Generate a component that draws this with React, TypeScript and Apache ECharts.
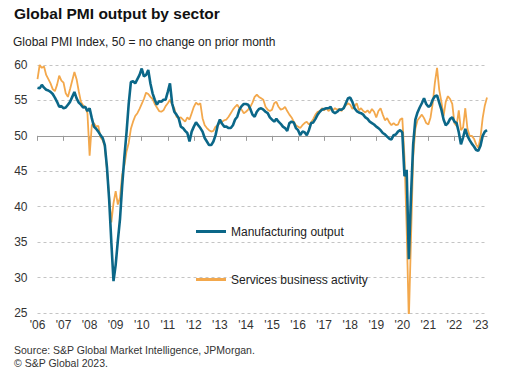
import React, { useEffect, useRef } from "react";
import * as echarts from "echarts";

const yearLabels = ["'06","'07","'08","'09","'10","'11","'12","'13","'14","'15","'16","'17","'18","'19","'20","'21","'22","'23"];

// monthly, Jan 2006 .. Apr 2023
const manufacturing = [
  56.8, 56.7, 57.2, 56.8, 56.5, 56.4, 56.2, 55.9, 55.4, 54.8, 54.1, 54.2,
  53.9, 54.0, 54.4, 54.8, 55.5, 56.2, 55.3, 54.7, 54.4, 54.0, 54.1, 53.5,
  53.9, 52.5, 51.3, 51.0, 50.6, 50.1, 49.7, 48.7, 45.5, 41.0, 35.0, 29.5,
  31.8, 35.2, 38.3, 43.0, 47.0, 50.5, 54.5, 57.6, 57.7, 57.4, 58.0, 58.6,
  59.5, 58.4, 58.6, 59.3, 57.4, 56.0, 55.1, 54.4, 54.9, 54.8, 55.1, 55.1,
  56.2, 57.4, 54.6, 53.4, 53.0, 52.5, 51.3, 51.1, 50.7, 50.4, 49.2, 50.6,
  51.3, 51.9, 51.5, 51.1, 50.6, 49.7, 49.2, 48.7, 48.7, 49.2, 50.1, 51.5,
  52.3, 51.7, 51.3, 51.3, 51.1, 51.1, 51.5, 52.3, 52.7, 53.7, 54.2, 54.5,
  54.5, 54.4, 53.8, 53.0, 52.7, 53.4, 53.8, 53.9, 53.7, 53.4, 53.2, 52.6,
  52.3, 52.0, 52.4, 52.0, 51.7, 51.3, 51.1, 50.7, 51.8, 52.0, 51.9, 51.1,
  50.8, 50.1, 50.6, 50.5, 50.1, 50.8, 51.8, 51.9, 52.4, 53.0, 53.4, 53.7,
  53.8, 53.9, 53.9, 54.1, 53.4, 53.2, 53.4, 53.7, 53.7, 53.9, 54.6, 55.3,
  55.4, 54.8, 53.9, 53.5, 53.3, 53.2, 53.0, 52.6, 52.4, 52.0, 51.8, 51.6,
  51.3, 51.1, 50.8, 50.4, 50.2, 49.9, 49.6, 49.5, 50.1, 50.2, 50.6, 50.8,
  50.5, 44.3, 45.2, 32.6, 41.5, 48.8, 52.3, 53.3, 54.0, 54.6, 55.3, 54.5,
  54.1, 54.3, 55.1, 55.6, 55.7, 54.7, 53.7, 52.3, 51.5, 51.8, 52.4, 52.6,
  52.0, 51.8, 50.5, 48.8, 49.8, 51.0, 50.0, 49.4, 48.9, 48.5, 48.0, 47.9,
  48.6, 50.0, 50.6, 50.8,
];

const services = [
  58.0, 60.0, 59.6, 59.8, 58.6, 58.0, 57.4, 56.6, 56.3, 57.2, 58.5, 57.8,
  57.5, 56.0, 55.5, 56.6, 57.8, 59.0, 58.0, 56.3, 54.8, 54.3, 54.0, 53.2,
  47.2, 51.5, 51.8, 51.3, 51.4, 49.8, 49.4, 48.5, 45.2, 41.5, 37.8, 40.5,
  42.2, 40.3, 41.3, 44.5, 45.8, 47.8, 49.0, 51.0, 52.0, 52.8, 53.2, 53.8,
  54.5, 55.2, 56.1, 55.9, 55.5, 55.2, 54.5, 54.0, 53.5, 53.4, 53.6, 54.2,
  54.6, 55.1, 54.4, 53.9, 52.7, 52.5, 52.6, 52.3, 52.0, 52.6, 52.3, 53.2,
  54.1, 54.7, 54.4, 54.6, 52.5, 51.5, 51.1, 50.8, 50.6, 50.7, 51.3, 51.5,
  51.8, 52.0, 52.2, 52.3, 52.7, 53.2, 53.7, 54.1, 54.4, 53.9, 53.7, 53.2,
  53.4, 53.7, 54.1, 54.7, 55.5, 55.8, 55.5, 55.3, 55.1, 54.1, 53.7, 53.5,
  53.7, 54.6, 54.8, 54.1, 53.7, 53.8, 54.1, 53.5, 53.0, 52.6, 52.0, 51.5,
  51.3, 51.1, 51.5, 51.8, 52.0, 51.6, 51.9, 52.4, 53.0, 53.4, 53.5, 53.9,
  53.6, 53.9, 53.5, 53.8, 53.6, 53.9, 53.7, 53.8, 53.5, 54.0, 54.3, 54.6,
  54.4, 53.8, 54.2, 54.6, 53.6, 53.9, 53.5, 53.3, 53.6, 53.2, 53.8, 53.4,
  52.6, 53.5, 53.9, 53.0, 52.2, 52.5, 51.9, 51.5, 51.8, 51.5, 51.6, 52.3,
  52.5, 47.0, 37.0, 24.0, 35.5, 47.0, 51.0, 52.2, 52.6, 53.0, 52.5, 51.8,
  51.6, 52.6, 54.6, 57.5, 59.6, 56.5, 54.8, 52.8, 54.8, 55.6, 55.2, 54.5,
  51.8, 51.4, 53.6, 50.8, 51.2, 53.9, 51.0, 50.0, 50.0, 49.6, 48.8, 48.3,
  49.8, 52.5, 54.3, 55.4,
];

const categories: string[] = [];
for (let i = 0; i < manufacturing.length; i++) {
  const y = 2006 + Math.floor(i / 12);
  const m = (i % 12) + 1;
  categories.push(`${y}-${m < 10 ? "0" + m : m}`);
}

const FONT = "'Liberation Sans', Arial, Helvetica, sans-serif";
const TEAL = "#0b6788";
const ORANGE = "#f3a84c";

export default function App() {
  const ref = useRef<HTMLDivElement>(null);
  useEffect(() => {
    if (!ref.current) return;
    const chart = echarts.init(ref.current, undefined, { renderer: "svg" });
    const gridTop = 65;
    const gridBottom = 61;
    const gridHeight = 374 - gridTop - gridBottom;
    const yMin = 25;
    const yMax = 60;
    const axisOffset = -(gridHeight * (50 - yMin)) / (yMax - yMin);
    chart.setOption({
      animation: false,
      backgroundColor: "#ffffff",
      textStyle: { fontFamily: FONT },
      title: [
        {
          text: "Global PMI output by sector",
          left: 14,
          top: 5,
          padding: 0,
          textStyle: { fontFamily: FONT, fontSize: 15.5, fontWeight: "bold", color: "#111" },
        },
        {
          text: "Global PMI Index, 50 = no change on prior month",
          left: 13,
          top: 36,
          padding: 0,
          textStyle: { fontFamily: FONT, fontSize: 12, fontWeight: "normal", color: "#222" },
        },
        {
          text: "Source: S&P Global Market Intelligence, JPMorgan.\n© S&P Global 2023.",
          left: 14,
          top: 344,
          padding: 0,
          textStyle: { fontFamily: FONT, fontSize: 10.5, lineHeight: 12.5, fontWeight: "normal", color: "#333" },
        },
      ],
      legend: {
        orient: "vertical",
        left: 196,
        top: 225.5,
        itemWidth: 30,
        itemHeight: 3,
        itemGap: 36,
        padding: 0,
        icon: "rect",
        data: [
          { name: "Manufacturing output", icon: "rect" },
          { name: "Services business activity", icon: "rect" },
        ],
        textStyle: { fontFamily: FONT, fontSize: 12, color: "#222" },
      },
      grid: { left: 37.5, right: 39, top: gridTop, bottom: gridBottom, containLabel: false },
      xAxis: [
        {
          type: "category",
          data: categories,
          boundaryGap: false,
          axisLine: { show: false },
          axisTick: { show: false },
          axisLabel: {
            interval: 11,
            margin: 6,
            fontFamily: FONT,
            fontSize: 12,
            color: "#333",
            formatter: (_v: string, idx: number) => yearLabels[Math.floor(idx / 12)],
          },
          splitLine: { show: false },
        },
        {
          type: "category",
          data: categories,
          boundaryGap: false,
          position: "bottom",
          offset: axisOffset,
          axisLine: { show: true, lineStyle: { color: "#9a9a9a", width: 1 } },
          axisTick: { show: true, interval: 11, length: 5, lineStyle: { color: "#9a9a9a" } },
          axisLabel: { show: false },
          splitLine: { show: false },
        },
      ],
      yAxis: {
        type: "value",
        min: yMin,
        max: yMax,
        interval: 5,
        axisLine: { show: false },
        axisTick: { show: false },
        axisLabel: { margin: 10, fontFamily: FONT, fontSize: 12, color: "#333" },
        splitLine: { lineStyle: { color: "#c4c4c4", type: [3, 3], width: 1 } },
      },
      series: [
        {
          name: "Services business activity",
          type: "line",
          data: services,
          symbol: "none",
          clip: true,
          lineStyle: { color: ORANGE, width: 1.8 },
          itemStyle: { color: ORANGE },
          z: 2,
        },
        {
          name: "Manufacturing output",
          type: "line",
          data: manufacturing,
          symbol: "none",
          clip: true,
          lineStyle: { color: TEAL, width: 2.6 },
          itemStyle: { color: TEAL },
          z: 3,
        },
      ],
    });
    return () => chart.dispose();
  }, []);
  return <div ref={ref} style={{ width: 526, height: 374, position: "absolute", left: 0, top: 0 }} />;
}
